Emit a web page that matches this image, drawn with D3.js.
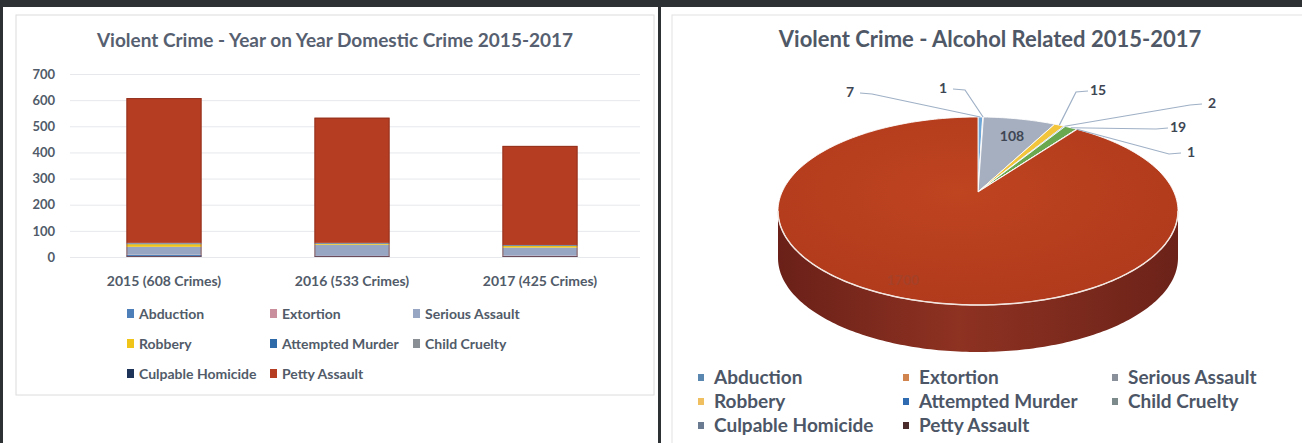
<!DOCTYPE html>
<html>
<head>
<meta charset="utf-8">
<script src="https://cdn.jsdelivr.net/npm/d3@7"></script>
<style>
  body { margin: 0; background: #fff; }
  svg { display: block; font-family: Lato, "Open Sans", sans-serif; }
</style>
</head>
<body>
<svg id="chart" width="1302" height="443"></svg>
<script>
// ---- data -------------------------------------------------------------
const years = ["2015 (608 Crimes)", "2016 (533 Crimes)", "2017 (425 Crimes)"];
const crimeTypes = ["Abduction", "Extortion", "Serious Assault", "Robbery",
  "Attempted Murder", "Child Cruelty", "Culpable Homicide", "Petty Assault"];

// domestic crime per year
const abduction        = [8, 6, 5];
const extortion        = [1, 1, 1];
const seriousAssault   = [30, 40, 30];
const robbery          = [10, 3, 6];
const attemptedMurder  = [2, 2, 2];
const childCruelty     = [2, 1, 1];
const culpableHomicide = [1, 1, 1];
const pettyAssault     = [554, 479, 379];
const yTicks = [0, 100, 200, 300, 400, 500, 600, 700];

// alcohol related 2015-2017 (pie)
const alcoholValues = [7, 1, 108, 15, 2, 19, 1, 1700];

// ---- colours ----------------------------------------------------------
const barColors = ["#4f7fb8", "#c98f9c", "#97a6c2", "#f0c419", "#2f6aa8", "#8a8f96", "#1d3358", "#b53d22"];
const pieColors = ["#6fa8d8", "#e07a3a", "#a6afbf", "#f2c53d", "#2f6aa8", "#6aa84f", "#5d6b80", "#b9401d"];
const legendRightColors = ["#5a87b0", "#d2844f", "#8a9099", "#f0c060", "#2e6bb0", "#7d8a8c", "#6a7a90", "#4a2c2c"];
const textColor = "#515b69";

const svg = d3.select("#chart");

// frame: dark scan borders
svg.append("rect").attr("x", 0).attr("y", 0).attr("width", 1302).attr("height", 443).attr("fill", "#fff");
svg.append("rect").attr("x", 16).attr("y", 15).attr("width", 638).attr("height", 380)
  .attr("fill", "none").attr("stroke", "#dcdcdc");
svg.append("rect").attr("x", 672).attr("y", 15).attr("width", 640).attr("height", 440)
  .attr("fill", "none").attr("stroke", "#e2e2e2");
svg.append("rect").attr("x", 0).attr("y", 0).attr("width", 1302).attr("height", 7).attr("fill", "#2e3133");
svg.append("rect").attr("x", 0).attr("y", 0).attr("width", 3).attr("height", 443).attr("fill", "#2e3133");
svg.append("rect").attr("x", 658).attr("y", 0).attr("width", 3).attr("height", 443).attr("fill", "#2e3133");

// -----------------------------------------------------------------------
// LEFT: stacked bars
// -----------------------------------------------------------------------
const left = svg.append("g");

left.append("text")
  .attr("x", 335).attr("y", 47)
  .attr("text-anchor", "middle")
  .style("font-size", "19px").style("font-weight", "bold")
  .attr("fill", "#566070")
  .text("Violent Crime - Year on Year Domestic Crime 2015-2017");

const seriesArrays = [abduction, extortion, seriousAssault, robbery,
  attemptedMurder, childCruelty, culpableHomicide, pettyAssault];
const rows = years.map((yr, i) => {
  const r = { year: yr };
  crimeTypes.forEach((c, k) => { r[c] = seriesArrays[k][i]; });
  return r;
});
const stack = d3.stack().keys(crimeTypes)(rows);

const x = d3.scaleBand().domain(years).range([70, 634]).paddingInner(0.6).paddingOuter(0.3);
const y = d3.scaleLinear().domain([0, 700]).range([257, 74]);
const barColor = d3.scaleOrdinal().domain(crimeTypes).range(barColors);

// gridlines + y labels
left.append("g")
  .attr("transform", "translate(70,0)")
  .call(d3.axisLeft(y).tickValues(yTicks).tickSize(-570).tickPadding(15))
  .call(g => g.select(".domain").remove())
  .call(g => g.selectAll(".tick line").attr("stroke", "#e6e8ec"))
  .call(g => g.selectAll(".tick text")
    .attr("fill", textColor).style("font-size", "13px").style("font-weight", "bold")
    .style("font-family", "Lato, sans-serif"));

left.append("g").selectAll("g")
  .data(stack)
  .join("g")
  .attr("fill", d => barColor(d.key))
  .selectAll("rect")
  .data(d => d)
  .join("rect")
  .attr("x", d => x(d.data.year))
  .attr("width", x.bandwidth())
  .attr("y", d => y(d[1]))
  .attr("height", d => y(d[0]) - y(d[1]));

// dark outline around the whole bar
left.append("g").selectAll("rect")
  .data(rows)
  .join("rect")
  .attr("x", d => x(d.year) + 0.5)
  .attr("width", x.bandwidth() - 1)
  .attr("y", d => y(d3.sum(crimeTypes, c => d[c])) + 0.5)
  .attr("height", d => y(0) - y(d3.sum(crimeTypes, c => d[c])) - 1)
  .attr("fill", "none").attr("stroke", "#7d2a1a").attr("stroke-opacity", 0.6);

// x labels
left.append("g")
  .attr("transform", "translate(0,257)")
  .call(d3.axisBottom(x).tickSize(0).tickPadding(19))
  .call(g => g.select(".domain").remove())
  .call(g => g.selectAll(".tick text")
    .attr("fill", textColor).style("font-size", "14px").style("font-weight", "bold")
    .style("font-family", "Lato, sans-serif"));

// legend
const leftLegend = left.append("g").selectAll("g")
  .data(crimeTypes)
  .join("g")
  .attr("transform", (d, i) => `translate(${130 + (i % 3) * 143},${314 + Math.floor(i / 3) * 30})`);
leftLegend.append("rect")
  .attr("x", -3).attr("y", -5).attr("width", 7).attr("height", 9)
  .attr("fill", d => barColor(d));
leftLegend.append("text")
  .attr("x", 9).attr("y", 5)
  .attr("fill", textColor)
  .style("font-size", "14px").style("font-weight", "bold")
  .text(d => d);

// -----------------------------------------------------------------------
// RIGHT: 3D pie
// -----------------------------------------------------------------------
const right = svg.append("g");

right.append("text")
  .attr("x", 990).attr("y", 47)
  .attr("text-anchor", "middle")
  .style("font-size", "22px").style("font-weight", "bold")
  .attr("fill", "#4f5866")
  .text("Violent Crime - Alcohol Related 2015-2017");

const cx = 978, cy = 211, rx = 200, ry = 94, depth = 47, apexLift = 19;
const pieColor = d3.scaleOrdinal().domain(crimeTypes).range(pieColors);
const arcs = d3.pie().sort(null)(alcoholValues)
  .map((a, i) => ({ ...a, key: crimeTypes[i] }));

const rim = (t, dy = 0) => [cx + rx * Math.sin(t), cy - ry * Math.cos(t) + dy];
function rimPoints(a0, a1, dy = 0) {
  const n = Math.max(2, Math.ceil((a1 - a0) / 0.02));
  return d3.range(n + 1).map(k => rim(a0 + (a1 - a0) * k / n, dy));
}

const defs = svg.append("defs");
const sideGrad = defs.append("linearGradient").attr("id", "side").attr("x1", 0).attr("x2", 1);
sideGrad.append("stop").attr("offset", "0%").attr("stop-color", "#6a2018");
sideGrad.append("stop").attr("offset", "45%").attr("stop-color", "#8e3222");
sideGrad.append("stop").attr("offset", "100%").attr("stop-color", "#6c2219");
const topGrad = defs.append("radialGradient").attr("id", "topface")
  .attr("cx", "45%").attr("cy", "40%").attr("r", "65%");
topGrad.append("stop").attr("offset", "0%").attr("stop-color", "#bf4420");
topGrad.append("stop").attr("offset", "100%").attr("stop-color", "#b03a1c");

// side walls for the front half
arcs.forEach(a => {
  const s = Math.max(a.startAngle, Math.PI / 2), e = Math.min(a.endAngle, 3 * Math.PI / 2);
  if (e <= s) return;
  const pts = rimPoints(s, e).concat(rimPoints(s, e, depth).reverse());
  right.append("path")
    .attr("d", d3.line()(pts) + "Z")
    .attr("fill", a.key === "Petty Assault" ? "url(#side)" : d3.color(pieColor(a.key)).darker(0.8));
});

// top faces
const apex = [cx, cy - apexLift];
right.append("g").selectAll("path")
  .data(arcs)
  .join("path")
  .attr("d", a => d3.line()([apex].concat(rimPoints(a.startAngle, a.endAngle))) + "Z")
  .attr("fill", a => a.key === "Petty Assault" ? "url(#topface)" : pieColor(a.key))
  .attr("stroke", "#fff").attr("stroke-width", 1).attr("stroke-opacity", 0.85);

// front rim highlight
right.append("path")
  .attr("d", d3.line()(rimPoints(Math.PI / 2, 3 * Math.PI / 2)))
  .attr("fill", "none").attr("stroke", "#f3e6e0").attr("stroke-width", 1.5);

// labels with leader lines (label offsets relative to pie centre)
const labelSpots = [[-128, -119], [-35, -123], [34, -75], [120, -121], [234, -108], [200, -84], [213, -59], [-75, 69]];
const insideLabel = [false, false, true, false, false, false, false, true];
arcs.forEach((a, i) => {
  const [lx, ly] = [cx + labelSpots[i][0], cy + labelSpots[i][1]];
  if (!insideLabel[i]) {
    const mid = (a.startAngle + a.endAngle) / 2;
    const [px, py] = rim(mid);
    const side = lx < px ? 1 : -1;
    right.append("path")
      .attr("d", d3.line()([[lx + side * 10, ly + 1], [lx + side * 22, ly + 2], [px, py]]))
      .attr("fill", "none").attr("stroke", "#9fb0c6").attr("stroke-width", 1.2);
  }
  right.append("text")
    .attr("x", lx).attr("y", ly + 5)
    .attr("text-anchor", "middle")
    .attr("fill", i === 7 ? "#a44128" : "#3e4654")
    .style("font-size", "14px").style("font-weight", "bold")
    .text(alcoholValues[i]);
});

// legend
const legendColor = d3.scaleOrdinal().domain(crimeTypes).range(legendRightColors);
const rightLegend = right.append("g").selectAll("g")
  .data(crimeTypes)
  .join("g")
  .attr("transform", (d, i) => `translate(${[701, 906, 1115][i % 3]},${378 + Math.floor(i / 3) * 24})`);
rightLegend.append("rect")
  .attr("x", -3).attr("y", -4).attr("width", 6).attr("height", 7)
  .attr("fill", d => legendColor(d));
rightLegend.append("text")
  .attr("x", 13).attr("y", 6)
  .attr("fill", "#4c5666")
  .style("font-size", "19px").style("font-weight", "bold")
  .text(d => d);
</script>
</body>
</html>
